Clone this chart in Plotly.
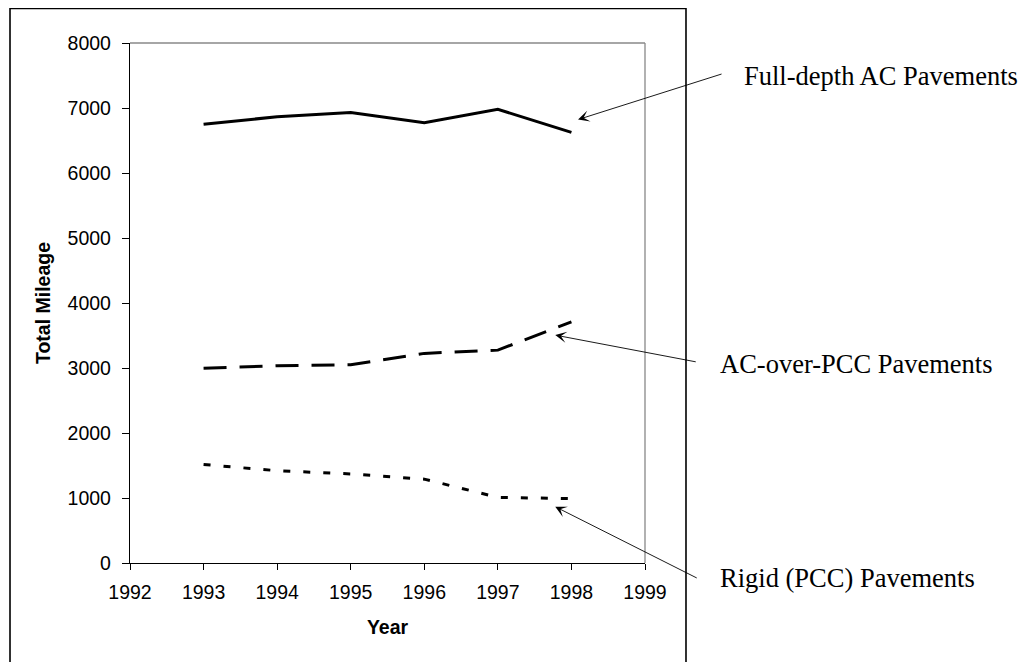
import plotly.graph_objects as go

years = [1993, 1994, 1995, 1996, 1997, 1998]
full_depth_ac = [6750, 6865, 6930, 6775, 6980, 6625]
ac_over_pcc = [2995, 3035, 3050, 3225, 3275, 3710]
rigid_pcc = [1515, 1420, 1370, 1290, 1010, 990]

x_ticks = [1992, 1993, 1994, 1995, 1996, 1997, 1998, 1999]
y_ticks = [0, 1000, 2000, 3000, 4000, 5000, 6000, 7000, 8000]

labels = ["Full-depth AC Pavements", "AC-over-PCC Pavements", "Rigid (PCC) Pavements"]

fig = go.Figure()
fig.add_trace(go.Scatter(x=years, y=full_depth_ac, mode="lines", name=labels[0],
                         line=dict(color="black", width=3, dash="solid")))
fig.add_trace(go.Scatter(x=years, y=ac_over_pcc, mode="lines", name=labels[1],
                         line=dict(color="black", width=3, dash="23px,13px")))
fig.add_trace(go.Scatter(x=years, y=rigid_pcc, mode="lines", name=labels[2],
                         line=dict(color="black", width=3, dash="7px,13px")))

tick_font = dict(family="Liberation Sans, Arial", size=19.5, color="black")
title_font = dict(family="Liberation Sans, Arial", size=19.5, color="black")

fig.update_layout(
    width=1029, height=662,
    margin=dict(l=122, r=392, t=35, b=107),
    paper_bgcolor="white", plot_bgcolor="white",
    showlegend=False,
    xaxis=dict(range=[1992, 1999], tickvals=x_ticks, ticktext=[str(v) for v in x_ticks],
               showgrid=False, zeroline=False, showline=True, linecolor="black", linewidth=1.3,
               ticks="outside", ticklen=6, tickwidth=1.2, tickcolor="black",
               tickfont=tick_font, ticklabelstandoff=5,
               title=dict(text="<b>Year</b>", font=title_font, standoff=18)),
    yaxis=dict(range=[0, 8000], tickvals=y_ticks, ticktext=[str(v) for v in y_ticks],
               showgrid=False, zeroline=False, showline=True, linecolor="black", linewidth=1.3,
               ticks="outside", ticklen=7, tickwidth=1.2, tickcolor="black",
               tickfont=tick_font, ticklabelstandoff=7,
               title=dict(text="<b>Total Mileage</b>", font=title_font, standoff=11)),
)

# grey top/right border of plot area
fig.add_shape(type="line", xref="paper", yref="paper", x0=0, x1=1, y0=1, y1=1,
              line=dict(color="#888888", width=1.3), layer="below")
fig.add_shape(type="line", xref="paper", yref="paper", x0=1, x1=1, y0=0, y1=1,
              line=dict(color="#888888", width=1.3), layer="below")
# outer chart frame
fig.add_shape(type="rect", xref="paper", yref="paper", x0=-0.233, x1=1.0796, y0=-0.25, y1=1.0663,
              line=dict(color="black", width=1.6))

ann_font = dict(family="Liberation Serif, Times New Roman", size=26.5, color="black")
# arrows (tip in data units, tail as pixel offset)
arrows = [
    (1998.09, 6822, 145, -46),
    (1997.78, 3506, 142, 27),
    (1997.78, 866, 143, 72),
]
for (x, y, ax, ay) in arrows:
    fig.add_annotation(x=x, y=y, xref="x", yref="y", ax=ax, ay=ay, axref="pixel", ayref="pixel",
                       text="", showarrow=True, arrowhead=3, arrowsize=2.1, arrowwidth=0.9,
                       arrowcolor="black")

label_pos = [(1.189, 0.9365), (1.1423, 0.3827), (1.1423, -0.028)]
for txt, (px, py) in zip(labels, label_pos):
    fig.add_annotation(x=px, y=py, xref="paper", yref="paper", text=txt, showarrow=False,
                       xanchor="left", yanchor="middle", font=ann_font)

fig.write_html("out.html")
